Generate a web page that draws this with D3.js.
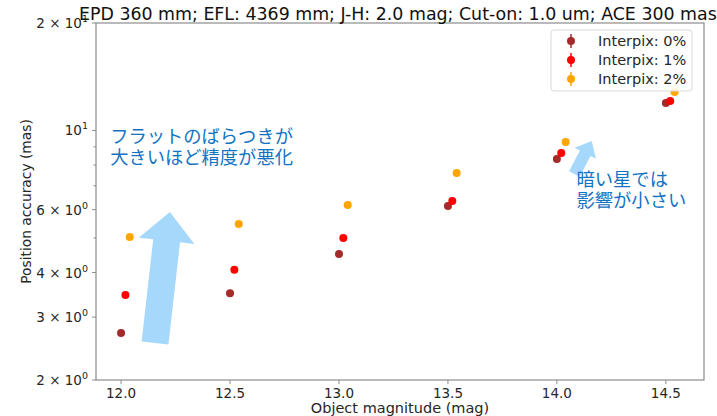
<!DOCTYPE html>
<html lang="en">
<head>
<meta charset="UTF-8">
<title>position accuracy</title>
<script src="https://cdn.jsdelivr.net/npm/d3@7"></script>
<style>
  body { margin: 0; background: #fff; overflow: hidden; }
  svg { display: block; font-family: "DejaVu Sans", sans-serif; }
</style>
</head>
<body>
<svg id="chart" width="717" height="416"></svg>
<script>
// magnitudes and the three interpix series (mas)
const mags = [12.0, 12.5, 13.0, 13.5, 14.0, 14.5];
const offsets = [0, 0.02, 0.04];
const seriesNames = ["Interpix: 0%", "Interpix: 1%", "Interpix: 2%"];
const interpix0 = [2.71, 3.50, 4.51, 6.14, 8.32, 11.94];
const interpix1 = [3.46, 4.07, 5.00, 6.34, 8.65, 12.09];
const interpix2 = [5.03, 5.47, 6.18, 7.60, 9.28, 12.82];
const colors = ["#a52a2a", "#ff0000", "#ffa500"];

const xTicks = [12.0, 12.5, 13.0, 13.5, 14.0, 14.5];
const yLabeled = [[2, 0], [3, 0], [4, 0], [6, 0], [1, 1], [2, 1]];
const yMinor = [5, 7, 8, 9];

const titleText = "EPD 360 mm; EFL: 4369 mm; J-H: 2.0 mag; Cut-on: 1.0 um; ACE 300 mas";

// annotation arrows, in data units
const arrows = [
  {from: [12.156, 2.54], to: [12.224, 5.91], shaft: 27, head: 56, headLen: 29},
  {from: [14.080, 7.55], to: [14.160, 9.35], shaft: 12, head: 24, headLen: 14}
];
const notes = [
  {at: [11.95, 9.2], lines: ["フラットのばらつきが", "大きいほど精度が悪化"]},
  {at: [14.09, 7.0], lines: ["暗い星では", "影響が小さい"]}
];

const svg = d3.select("#chart");
const margin = {top: 23, right: 13, bottom: 36, left: 96};
const W = 717 - margin.left - margin.right;
const H = 416 - margin.top - margin.bottom;

const x = d3.scaleLinear().domain([11.885, 14.675]).range([0, W]);
const y = d3.scaleLog().domain([2, 20]).range([H, 0]);

const g = svg.append("g").attr("transform", `translate(${margin.left},${margin.top})`);

// arrows first so points sit on top
arrows.forEach(a => {
  const x0 = x(a.from[0]), y0 = y(a.from[1]);
  const x1 = x(a.to[0]), y1 = y(a.to[1]);
  const len = Math.hypot(x1 - x0, y1 - y0);
  const ux = (x1 - x0) / len, uy = (y1 - y0) / len;
  const nx = -uy, ny = ux;
  const bx = x1 - ux * a.headLen, by = y1 - uy * a.headLen;
  const s = a.shaft / 2, h = a.head / 2;
  const pts = [
    [x0 + nx * s, y0 + ny * s],
    [bx + nx * s, by + ny * s],
    [bx + nx * h, by + ny * h],
    [x1, y1],
    [bx - nx * h, by - ny * h],
    [bx - nx * s, by - ny * s],
    [x0 - nx * s, y0 - ny * s]
  ];
  g.append("polygon")
    .attr("points", pts.map(p => p.join(",")).join(" "))
    .attr("fill", "#a6d8fc");
});

notes.forEach(n => {
  const t = g.append("text")
    .attr("x", x(n.at[0])).attr("y", y(n.at[1]))
    .attr("fill", "#1273c3")
    .style("font-family", "'Noto Sans CJK JP', sans-serif")
    .style("font-size", "18.3px");
  n.lines.forEach((line, i) => {
    t.append("tspan").attr("x", x(n.at[0])).attr("dy", i ? 21 : 0).text(line);
  });
});

// points
const allSeries = [interpix0, interpix1, interpix2];
allSeries.forEach((vals, si) => {
  g.append("g").selectAll("circle")
    .data(vals)
    .join("circle")
    .attr("cx", (d, i) => x(mags[i] + offsets[si]))
    .attr("cy", d => y(d))
    .attr("r", 4)
    .attr("fill", colors[si]);
});

// spines
g.append("rect").attr("width", W).attr("height", H)
  .attr("fill", "none").attr("stroke", "#8c8c8c").attr("stroke-width", 1.2);

// x axis
const xg = g.append("g").attr("transform", `translate(0,${H})`);
xTicks.forEach(t => {
  xg.append("line").attr("x1", x(t)).attr("x2", x(t)).attr("y1", 0).attr("y2", 4)
    .attr("stroke", "#8c8c8c");
  xg.append("text").attr("x", x(t)).attr("y", 18).attr("text-anchor", "middle")
    .attr("fill", "#262626").style("font-size", "13.5px").text(t.toFixed(1));
});
g.append("text").attr("x", W / 2).attr("y", H + 33).attr("text-anchor", "middle")
  .attr("fill", "#262626").style("font-size", "14.5px").text("Object magnitude (mag)");

// y axis
const yg = g.append("g");
yLabeled.forEach(([m, e]) => {
  const v = m * Math.pow(10, e);
  const yy = y(v);
  yg.append("line").attr("x1", -4).attr("x2", 0).attr("y1", yy).attr("y2", yy)
    .attr("stroke", "#8c8c8c");
  const t = yg.append("text").attr("x", -8).attr("y", yy + 5).attr("text-anchor", "end")
    .attr("fill", "#262626").style("font-size", "13.5px");
  t.append("tspan").text(m === 1 ? "10" : `${m} \u00d7 10`);
  t.append("tspan").attr("dy", -6).style("font-size", "9.5px").text(e);
});
yMinor.forEach(v => {
  yg.append("line").attr("x1", -2.5).attr("x2", 0).attr("y1", y(v)).attr("y2", y(v))
    .attr("stroke", "#8c8c8c");
});
svg.append("text")
  .attr("transform", `translate(31,${margin.top + H / 2}) rotate(-90)`)
  .attr("text-anchor", "middle").attr("fill", "#262626").style("font-size", "13.8px")
  .text("Position accuracy (mas)");

// title, runs off the right edge like the original
svg.append("text").attr("x", 79).attr("y", 20).attr("fill", "#111")
  .style("font-size", "17.4px").text(titleText);

// legend
const lg = g.append("g").attr("transform", `translate(${W - 153},7)`);
lg.append("rect").attr("width", 141).attr("height", 61).attr("rx", 3)
  .attr("fill", "#fff").attr("fill-opacity", 0.85).attr("stroke", "#d9d9d9");
seriesNames.forEach((name, i) => {
  const ly = 11 + i * 19;
  lg.append("line").attr("x1", 20).attr("x2", 20).attr("y1", ly - 7).attr("y2", ly + 7)
    .attr("stroke", colors[i]).attr("stroke-width", 1.5);
  lg.append("circle").attr("cx", 20).attr("cy", ly).attr("r", 4).attr("fill", colors[i]);
  lg.append("text").attr("x", 47).attr("y", ly + 5).attr("fill", "#262626")
    .style("font-size", "14.5px").text(name);
});
</script>
</body>
</html>
